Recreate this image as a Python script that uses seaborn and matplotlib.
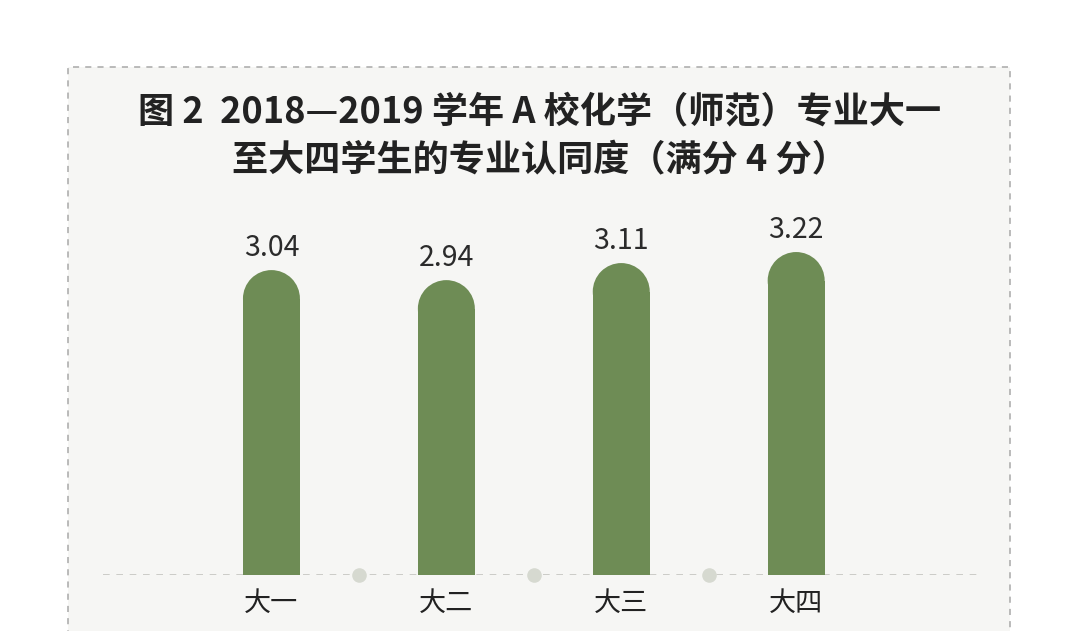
import matplotlib
matplotlib.use("Agg")
import matplotlib.pyplot as plt
import seaborn as sns
import pandas as pd
from matplotlib.patches import Rectangle, Ellipse

categories = ["大一", "大二", "大三", "大四"]
values = [3.04, 2.94, 3.11, 3.22]
value_labels = ["3.04", "2.94", "3.11", "3.22"]
title = "图 2  2018—2019 学年 A 校化学（师范）专业大一\n至大四学生的专业认同度（满分 4 分）"

sns.set_theme(style="white")
plt.rcParams["font.family"] = ["Noto Sans CJK SC", "DejaVu Sans"]

W, H = 1080, 631
fig = plt.figure(figsize=(W / 100, H / 100), dpi=100)
fig.patch.set_facecolor("white")

# panel box
box = Rectangle((68 / W, -0.05), (1010 - 68) / W, (H - 67) / H + 0.05,
                transform=fig.transFigure, facecolor="#f6f6f4",
                edgecolor="#a8a8a8", linestyle=(0, (4, 4)), linewidth=1.1,
                zorder=-5)
fig.patches.append(box)

ax_left, ax_right = 103, 980
ax_bottom, ax_top = 575, 200
ax = fig.add_axes([ax_left / W, (H - ax_bottom) / H,
                   (ax_right - ax_left) / W, (ax_bottom - ax_top) / H])
ax.set_facecolor("none")
ax.set_zorder(2)

df = pd.DataFrame({"cat": categories, "val": values})
bar_color = "#6e8c55"
bw = 57 / 175
sns.barplot(data=df, x="cat", y="val", color=bar_color, width=bw,
            saturation=1, ax=ax, zorder=3)

ax.set_xlim(-0.963, 4.051)
ymax = (ax_bottom - ax_top) / 100.3
ax.set_ylim(0, ymax)

px_per_unit = (ax_bottom - ax_top) / ymax
r_data = (57 / 2) / px_per_unit

for p, v, lab in zip(ax.patches, values, value_labels):
    x0 = p.get_x()
    w = p.get_width()
    p.set_height(v - r_data)
    p.set_edgecolor("none")
    cap = Ellipse((x0 + w / 2, v - r_data), w, 2 * r_data,
                  facecolor=bar_color, edgecolor="none", zorder=3)
    ax.add_patch(cap)
    ax.annotate(lab, (x0 + w / 2, v), xytext=(0, 5), textcoords="offset points",
                ha="center", va="bottom", fontsize=20.5, color="#2b2b2b")

ax.axhline(0, color="#c4c4c0", linestyle=(0, (4, 4)), linewidth=1.2, zorder=2,
           xmin=0, xmax=1)
ax.plot([0.5, 1.5, 2.5], [0, 0, 0], "o", markersize=10.5, color="#d6d9d0",
        clip_on=False, zorder=4, markeredgewidth=0)

for s in ax.spines.values():
    s.set_visible(False)
ax.set_xlabel("")
ax.set_ylabel("")
ax.set_yticks([])
ax.tick_params(axis="x", length=0, pad=11, labelsize=19.5, labelcolor="#222222")

fig.text(540 / W, 1 - 136 / H, title, ha="center", va="center", fontsize=26,
         fontweight="heavy", color="#222222", linespacing=1.42)

fig.savefig("out.png", dpi=100)
